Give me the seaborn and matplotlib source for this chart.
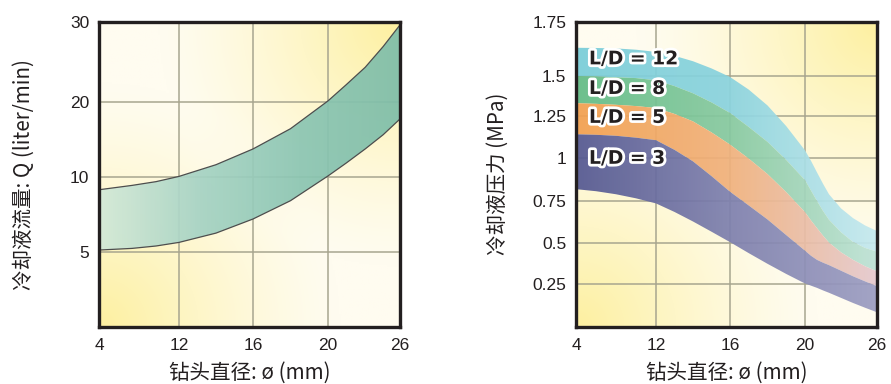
import numpy as np
import matplotlib
matplotlib.use("Agg")
import matplotlib.pyplot as plt
import matplotlib.patheffects as pe
from matplotlib.colors import LinearSegmentedColormap, to_rgb
import seaborn as sns

# drill diameter axis (mm) - ticks are spaced unevenly on the original
dia_ticks = [4, 12, 16, 20, 26]
dia_pos = [0, 80, 154, 229, 301]

# left chart: coolant flow Q (liter/min)
flow_ticks = [0, 5, 10, 20, 30]
flow_pos = [0, 75, 150, 225, 305]
flow_labels = ["", "5", "10", "20", "30"]
flow_x = [4, 7.3, 9.7, 12, 14, 16, 18, 20, 21.5, 23.1, 24.6, 26]
flow_hi = [9.13, 9.42, 9.67, 10.04, 11.6, 13.7, 16.4, 20.1, 22.1, 24.3, 26.9, 29.6]
flow_lo = [5.11, 5.22, 5.38, 5.62, 6.24, 7.18, 8.4, 10.1, 11.8, 13.7, 15.6, 17.7]

# right chart: coolant pressure (MPa), one band per L/D ratio
press_ticks = [0, 0.25, 0.5, 0.75, 1, 1.25, 1.5, 1.75]
press_pos = [0, 42.4, 83.4, 126, 168.4, 210.7, 250.7, 305]
press_labels = ["", "0.25", "0.5", "0.75", "1", "1.25", "1.5", "1.75"]
press_x = [4, 6, 8, 10, 12, 13, 14, 15, 16, 17, 18, 19, 20, 20.5, 21, 21.5, 22, 23, 24, 25, 26]
edge_12 = [1.630, 1.629, 1.627, 1.621, 1.611, 1.593, 1.568, 1.535, 1.494, 1.415, 1.316,
           1.190, 1.047, 0.985, 0.917, 0.850, 0.788, 0.705, 0.648, 0.605, 0.572]
edge_8 = [1.500, 1.497, 1.492, 1.487, 1.473, 1.437, 1.392, 1.335, 1.269, 1.185, 1.097,
          0.990, 0.871, 0.810, 0.748, 0.690, 0.638, 0.565, 0.508, 0.472, 0.449]
edge_5 = [1.330, 1.326, 1.320, 1.312, 1.300, 1.263, 1.218, 1.153, 1.081, 0.998, 0.907,
          0.800, 0.683, 0.634, 0.589, 0.545, 0.504, 0.445, 0.399, 0.360, 0.329]
edge_3 = [1.142, 1.139, 1.133, 1.122, 1.107, 1.050, 0.982, 0.895, 0.803, 0.722, 0.640,
          0.548, 0.455, 0.424, 0.399, 0.382, 0.367, 0.333, 0.299, 0.268, 0.239]
edge_floor = [0.818, 0.806, 0.788, 0.764, 0.734, 0.684, 0.628, 0.568, 0.507, 0.440, 0.375,
              0.313, 0.255, 0.242, 0.229, 0.214, 0.200, 0.170, 0.140, 0.112, 0.085]

ld_names = ["L/D = 12", "L/D = 8", "L/D = 5", "L/D = 3"]
ld_label_x = 5.3
ld_label_y = [1.579, 1.422, 1.242, 1.0]
ld_colors = [
    ["#79cdd9", "#8ad3de", "#c6e9ef"],
    ["#62bc86", "#86c9a0", "#bfe2d6"],
    ["#f3a04f", "#f0b17c", "#e5cad0"],
    ["#545892", "#7e80ae", "#9c9dc2"],
]

xlabel = "钻头直径: ø (mm)"
ylabel_left = "冷却液流量: Q (liter/min)"
ylabel_right = "冷却液压力 (MPa)"

sns.set_theme(style="white")
plt.rcParams["font.family"] = ["Liberation Sans", "DejaVu Sans"]
cjk = ["Noto Sans CJK SC", "DejaVu Sans"]
ink = "#231f20"


def piecewise(vals, pos):
    return (lambda v: np.interp(v, vals, pos), lambda p: np.interp(p, pos, vals))


def background(ax):
    u, v = np.meshgrid(np.linspace(0, 1, 200), np.linspace(0, 1, 200))
    d1 = np.hypot(u, v)
    d2 = np.hypot(1 - u, 1 - v)
    w = np.clip(1 - d1 / 0.8, 0, 1) ** 1.3 + np.clip(1 - d2 / 0.8, 0, 1) ** 1.3
    w = np.clip(w, 0, 1)[..., None]
    pale = np.array(to_rgb("#fffcf0"))
    yel = np.array(to_rgb("#fdf0a0"))
    img = pale * (1 - w) + yel * w
    ax.imshow(img, origin="lower", extent=[0, 1, 0, 1], transform=ax.transAxes,
              aspect="auto", zorder=0, interpolation="bilinear")


def gradient_band(ax, x, lo, hi, colors, z, alpha=0.93):
    coll = ax.fill_between(x, lo, hi, facecolor="none", edgecolor="none", zorder=z)
    cmap = LinearSegmentedColormap.from_list("band", colors)
    grad = np.linspace(0, 1, 256).reshape(1, -1)
    im = ax.imshow(grad, cmap=cmap, extent=[0, 1, 0, 1], transform=ax.transAxes,
                   aspect="auto", zorder=z, interpolation="bilinear", alpha=alpha)
    im.set_clip_path(coll.get_paths()[0], coll.get_transform())


def style_axes(ax, yticks, ypos, ylabels):
    ax.set_xscale("function", functions=piecewise(dia_ticks, dia_pos))
    ax.set_yscale("function", functions=piecewise(yticks, ypos))
    ax.set_xlim(dia_ticks[0], dia_ticks[-1])
    ax.set_ylim(yticks[0], yticks[-1])
    ax.set_xticks(dia_ticks)
    ax.set_xticklabels([str(t) for t in dia_ticks])
    ax.set_yticks(yticks)
    ax.set_yticklabels(ylabels)
    ax.xaxis.set_minor_locator(matplotlib.ticker.NullLocator())
    ax.yaxis.set_minor_locator(matplotlib.ticker.NullLocator())
    ax.tick_params(axis="both", length=0, labelsize=12.5, labelcolor=ink)
    ax.tick_params(axis="x", pad=8)
    ax.tick_params(axis="y", pad=7)
    ax.set_axisbelow(True)
    ax.grid(True, color="#a6a48e", linewidth=1.2, alpha=0.9)
    for s in ax.spines.values():
        s.set_color(ink)
        s.set_linewidth(2.4)
        s.set_zorder(5)
    ax.set_xlabel(xlabel, family=cjk, fontsize=14.8, color=ink)
    ax.xaxis.set_label_coords(0.5, -0.115)


fig = plt.figure(figsize=(8.91, 3.84), dpi=100)
ax1 = fig.add_axes([99 / 891, 57.3 / 384, 301 / 891, 305 / 384])
ax2 = fig.add_axes([576 / 891, 57.3 / 384, 301 / 891, 305 / 384])

# left: coolant flow band
background(ax1)
gradient_band(ax1, flow_x, flow_lo, flow_hi, ["#d3e9d8", "#a6d3c4", "#8cc6b3", "#7fbea9"], 2)
sns.lineplot(x=flow_x, y=flow_hi, ax=ax1, color="#4d4d4d", linewidth=0.9, zorder=3)
sns.lineplot(x=flow_x, y=flow_lo, ax=ax1, color="#4d4d4d", linewidth=0.9, zorder=3)
style_axes(ax1, flow_ticks, flow_pos, flow_labels)
ax1.set_ylabel(ylabel_left, family=cjk, fontsize=14.8, color=ink)
ax1.yaxis.set_label_coords(-0.215, 0.5)

# right: coolant pressure bands per L/D
background(ax2)
edges = [edge_12, edge_8, edge_5, edge_3, edge_floor]
for i in range(4):
    gradient_band(ax2, press_x, edges[i + 1], edges[i], ld_colors[i], 2)
for name, y in zip(ld_names, ld_label_y):
    ax2.text(ld_label_x, y, name, fontsize=13.5, fontweight="bold", color=ink,
             family="DejaVu Sans", va="center", ha="left", zorder=6,
             path_effects=[pe.withStroke(linewidth=4, foreground="white")])
style_axes(ax2, press_ticks, press_pos, press_labels)
ax2.set_ylabel(ylabel_right, family=cjk, fontsize=14.8, color=ink)
ax2.yaxis.set_label_coords(-0.222, 0.5)

fig.savefig("out.png", dpi=100)
